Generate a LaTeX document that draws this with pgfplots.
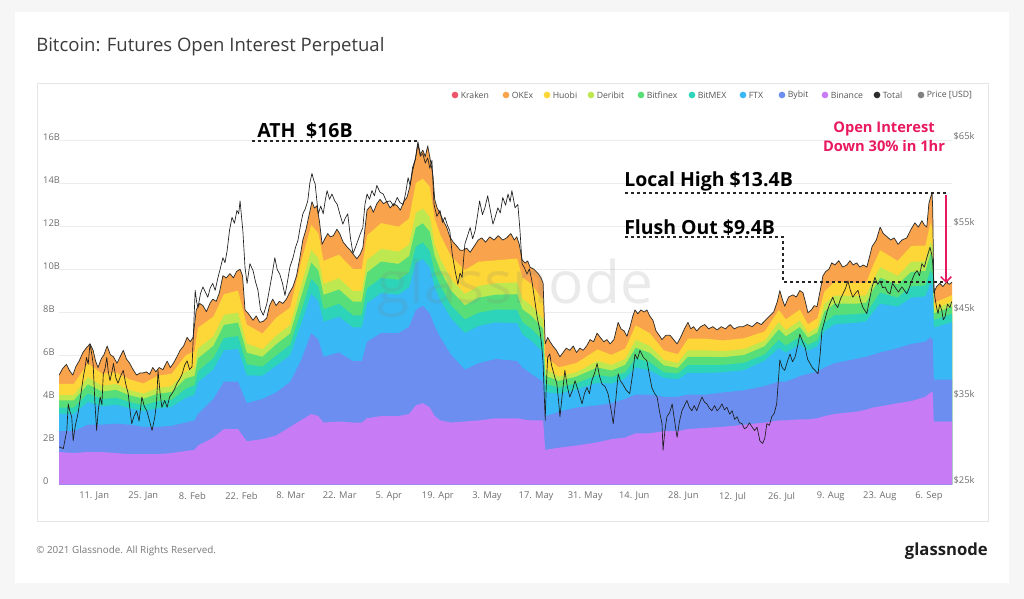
\documentclass[border=0pt]{standalone}
\usepackage{fontspec}
\setmainfont{Open Sans}
\usepackage{pgfplots}
\pgfplotsset{compat=1.18}
\usepackage{pgfplotstable}
\usetikzlibrary{arrows.meta}

\definecolor{cBinance}{RGB}{199,124,245}
\definecolor{cBybit}{RGB}{108,142,240}
\definecolor{cFTX}{RGB}{56,184,245}
\definecolor{cBitMEX}{RGB}{45,212,185}
\definecolor{cBitfinex}{RGB}{88,222,120}
\definecolor{cDeribit}{RGB}{190,232,80}
\definecolor{cHuobi}{RGB}{253,214,56}
\definecolor{cOKEx}{RGB}{249,164,76}
\definecolor{cKraken}{RGB}{238,86,104}
\definecolor{cTotal}{RGB}{45,45,45}
\definecolor{cPrice}{RGB}{128,128,128}
\definecolor{cPink}{RGB}{233,25,96}
\definecolor{tickcol}{RGB}{110,110,110}
\definecolor{legcol}{RGB}{85,85,85}
\definecolor{gridcol}{RGB}{236,236,236}
\definecolor{bgcol}{RGB}{246,246,246}
\definecolor{framecol}{RGB}{230,230,230}

% Total open interest (USD bn) vs day of 2021 (day 0 = 1 Jan)
\pgfplotstableread{
d t
0 5.1
1.0 5.4
2.1 5.6
3.0 5.3
3.9 5.1
4.8 5.5
5.7 5.75
6.8 6.15
7.7 6.35
8.8 6.55
9.7 6.25
10.4 5.75
11.1 5.45
12.0 5.85
12.8 6.05
13.7 6.45
14.6 6.05
15.5 5.95
16.5 5.65
17.4 5.95
18.3 6.25
19.2 5.85
20.1 5.65
21.1 5.35
22.1 5.1
23.1 5.2
23.9 5.2
24.9 5.25
25.8 5.13
26.7 5.45
27.6 5.25
28.5 5.45
29.6 5.35
30.8 5.75
31.7 5.45
32.6 5.65
33.6 5.95
34.5 6.25
35.5 6.45
36.5 6.85
37.4 6.65
38.2 6.85
39.1 8.13
40.1 8.43
41.0 8.33
42.0 8.05
43.0 8.43
43.8 8.63
44.8 8.53
45.7 8.93
46.7 9.72
47.7 9.62
48.7 9.82
49.7 9.62
50.6 9.92
51.6 10.02
52.3 9.72
53.0 8.13
54.0 7.95
55.3 7.65
56.2 7.85
57.2 7.55
58.2 7.6
59.2 7.75
60.0 8.33
60.9 8.63
61.9 8.33
62.8 8.53
63.8 8.43
64.8 8.63
65.7 8.93
66.7 9.22
67.7 9.72
68.6 10.51
69.5 11.38
70.4 11.88
71.3 12.57
72.1 13.16
72.8 12.87
73.5 12.97
74.2 12.28
75.0 11.18
75.9 11.48
76.6 11.68
77.3 11.53
78.2 11.58
79.2 11.88
80.0 11.68
81.0 11.28
82.0 11.08
83.0 10.91
83.9 10.71
84.9 10.51
85.8 10.71
86.6 11.01
87.8 12.77
88.8 12.97
89.6 12.67
90.6 13.07
91.5 13.27
92.5 13.07
93.4 13.17
94.4 12.87
95.4 13.07
96.4 12.97
97.3 12.77
98.3 13.17
99.2 13.37
100.0 13.86
100.8 14.76
101.6 15.16
102.3 15.95
103.0 15.36
103.7 15.56
104.4 15.26
105.1 15.76
105.9 15.06
106.6 14.36
107.1 13.26
107.8 12.87
108.6 12.63
109.5 12.28
110.5 11.98
111.4 11.53
112.4 11.28
113.5 11.08
114.3 10.91
115.2 10.91
116.2 11.0
117.2 10.81
118.3 11.08
119.5 11.38
120.5 11.48
121.6 11.28
122.8 11.53
124.0 11.38
125.2 11.58
126.5 11.38
127.6 11.48
128.8 11.68
129.8 11.38
130.5 11.53
131.2 11.18
132.0 10.46
132.9 10.31
133.6 10.41
134.3 10.11
135.4 10.02
136.6 9.82
137.4 9.62
138.0 9.37
138.6 6.55
139.3 6.85
140.0 6.65
140.8 6.45
141.8 6.25
142.8 5.95
143.7 6.15
144.6 6.35
145.6 6.25
146.6 6.45
147.5 6.15
148.5 6.35
149.4 6.25
150.4 6.45
151.4 6.75
152.4 6.65
153.4 7.05
154.3 6.85
155.3 6.65
156.2 6.75
157.1 6.55
158.2 6.75
159.4 7.55
160.2 7.25
161.1 7.15
161.9 6.9
162.8 7.35
163.6 7.85
164.2 8.13
165.0 7.95
165.9 8.13
166.8 8.03
167.6 8.13
168.4 7.85
169.3 7.65
170.2 7.15
171.1 6.95
171.9 6.75
173.0 6.95
174.2 6.95
175.2 6.75
176.2 6.55
177.2 6.85
178.3 7.25
179.3 7.55
180.1 7.25
180.9 7.35
181.8 7.15
182.9 7.35
184.1 7.45
185.2 7.25
186.4 7.35
187.6 7.2
188.8 7.35
190.0 7.25
191.3 7.45
192.5 7.25
193.8 7.35
195.0 7.35
196.2 7.45
197.6 7.35
199.0 7.55
200.2 7.45
201.4 7.65
202.6 7.85
203.8 8.05
204.8 8.53
205.5 9.03
206.2 8.63
206.9 8.3
208.0 8.73
209.2 8.83
210.2 8.73
211.2 9.03
212.1 8.93
212.9 8.43
213.5 8.0
214.5 8.13
215.3 8.33
216.1 8.28
217.0 9.03
217.8 9.72
218.6 9.92
219.5 10.02
220.3 10.32
221.2 10.22
222.3 10.42
223.4 10.12
224.6 10.22
225.5 10.42
226.4 10.22
227.4 10.32
228.3 10.12
229.3 10.22
230.3 10.12
231.1 10.62
231.8 11.08
233.0 11.38
234.1 11.98
235.0 11.68
236.1 11.53
237.1 11.38
238.1 11.48
239.2 11.18
240.3 11.38
241.7 11.48
242.9 11.88
244.0 12.18
245.0 11.98
246.0 12.28
246.7 12.08
247.4 11.98
248.0 13.08
248.5 13.38
248.9 13.58
249.1 12.78
249.4 8.93
250.2 9.22
251.1 9.37
252.0 9.22
253.0 9.42
253.8 9.32
254.6 9.42
}\tot

% cumulative tops of the stacked exchange layers (USD bn)
\pgfplotstableread{
d bi by ftx mex fin der hu
0 1.52 2.49 3.29 3.59 3.92 4.17 4.69
4.2 1.47 2.49 3.29 3.59 3.92 4.17 4.69
8.2 1.52 2.79 3.85 4.24 4.67 5.00 5.65
12.2 1.52 2.79 3.65 3.98 4.33 4.60 5.17
16.2 1.47 2.84 3.72 4.05 4.41 4.68 5.22
20.1 1.42 2.79 3.56 3.85 4.16 4.40 4.90
24.1 1.42 2.69 3.43 3.70 4.00 4.23 4.71
28.1 1.42 2.69 3.55 3.88 4.23 4.50 5.07
32.1 1.47 2.74 3.62 3.95 4.31 4.58 5.16
36.1 1.57 2.89 4.04 4.47 4.94 5.26 6.02
38.6 1.62 2.99 4.17 4.62 5.06 5.43 6.21
39.6 1.82 3.29 4.76 5.27 5.87 6.33 7.30
44.0 2.19 3.99 5.36 5.89 6.46 6.90 7.82
47.0 2.59 4.79 6.25 6.82 7.43 7.90 8.86
51.0 2.59 4.79 6.32 6.91 7.54 8.00 9.03
53.5 2.02 3.79 5.09 5.60 6.14 6.56 7.45
58.0 2.12 3.99 5.07 5.49 5.95 6.30 7.03
61.9 2.29 4.29 5.53 6.01 6.53 6.93 7.77
65.9 2.69 4.79 6.03 6.51 7.03 7.43 8.24
68.9 2.99 5.75 7.41 8.01 8.68 9.20 10.30
71.9 3.29 7.05 8.88 9.57 10.33 10.91 12.08
73.9 3.19 6.75 8.54 9.23 9.97 10.54 11.70
75.4 2.89 5.95 7.58 8.16 8.83 9.34 10.41
79.8 2.94 6.15 7.81 8.41 9.08 9.60 10.70
83.8 2.89 5.75 7.32 7.88 8.51 9.00 10.03
86.3 2.89 5.75 7.32 7.88 8.51 9.00 10.03
87.8 3.09 6.65 8.44 9.13 9.87 10.44 11.60
91.8 3.19 7.05 8.91 9.62 10.38 10.97 12.17
96.8 3.19 7.05 8.84 9.53 10.27 10.84 12.00
99.8 3.29 7.35 9.18 9.87 10.63 11.17 12.38
101.7 3.69 8.12 10.30 11.07 11.96 12.64 14.03
103.7 3.79 8.32 10.50 11.27 12.16 12.84 14.23
105.7 3.59 7.95 10.10 10.87 11.76 12.44 13.86
107.1 3.19 7.35 9.18 9.87 10.63 11.17 12.38
108.7 2.99 6.85 8.58 9.24 9.96 10.49 11.62
111.7 2.89 6.05 7.75 8.35 9.04 9.57 10.64
115.7 2.94 5.35 7.05 7.68 8.34 8.87 9.98
119.6 2.99 5.65 7.38 8.00 8.70 9.24 10.37
124.6 3.09 5.85 7.55 8.15 8.84 9.37 10.44
130.6 3.09 5.75 7.51 8.14 8.86 9.41 10.52
132.1 3.04 5.45 6.99 7.56 8.16 8.64 9.64
134.6 2.99 5.15 6.69 7.26 7.86 8.34 9.34
138.0 2.99 4.79 6.16 6.69 7.26 7.70 8.59
138.6 1.62 3.19 4.31 4.69 5.07 5.39 5.97
142.5 1.72 3.39 4.23 4.52 4.83 5.03 5.46
147.5 1.82 3.59 4.43 4.72 5.03 5.23 5.66
153.5 1.97 3.69 4.74 5.10 5.45 5.75 6.29
157.5 2.12 3.79 4.70 5.01 5.31 5.57 6.04
161.4 2.19 3.99 4.94 5.22 5.57 5.84 6.33
164.4 2.39 4.19 5.45 5.89 6.37 6.74 7.41
168.4 2.39 4.19 5.31 5.70 6.13 6.46 7.05
172.4 2.49 4.09 4.97 5.23 5.55 5.80 6.25
176.4 2.49 4.09 4.90 5.17 5.43 5.66 6.07
179.3 2.59 4.19 5.20 5.56 5.95 6.25 6.79
184.3 2.64 4.19 5.20 5.56 5.95 6.25 6.79
189.3 2.69 4.29 5.23 5.57 5.93 6.21 6.71
195.3 2.79 4.39 5.33 5.67 6.03 6.31 6.81
201.2 2.89 4.59 5.77 6.06 6.44 6.70 7.13
205.2 2.99 4.79 6.35 6.73 7.22 7.56 8.13
207.2 2.99 4.79 6.14 6.47 6.90 7.19 7.69
211.2 3.04 5.05 6.52 6.87 7.33 7.64 8.14
213.5 3.04 5.15 6.24 6.50 6.84 7.07 7.46
216.2 3.09 5.25 6.43 6.71 7.07 7.32 7.74
218.2 3.19 5.45 7.13 7.53 8.05 8.41 8.98
221.1 3.29 5.65 7.46 7.89 8.42 8.80 9.45
227.1 3.39 5.85 7.53 7.93 8.42 8.78 9.38
230.1 3.49 5.95 7.59 7.98 8.46 8.81 9.39
232.1 3.59 6.05 8.02 8.46 9.08 9.50 10.20
234.1 3.64 6.15 8.42 8.93 9.63 10.12 10.91
239.1 3.79 6.35 8.28 8.71 9.31 9.72 10.41
243.0 3.89 6.55 8.70 9.22 9.90 10.37 11.11
247.0 4.09 6.65 8.76 9.27 9.94 10.39 11.12
248.5 4.29 6.85 9.38 9.99 10.75 11.29 12.21
249.1 4.29 6.75 9.16 9.74 10.49 11.01 11.84
249.4 2.94 4.89 7.31 7.66 7.97 8.17 8.45
254.6 2.94 4.89 7.56 7.95 8.29 8.51 8.82
}\lay

% BTC price (USD thousands)
\pgfplotstableread{
d p
0 29.4
1.2 29.2
2.2 31.3
2.6 34.4
3.1 33.5
3.6 32.9
4.0 30.1
4.6 31.8
5.4 33.3
6.2 35.5
6.9 37.5
7.4 38.6
7.8 39.8
8.3 39.0
8.8 41.4
9.3 40.2
9.7 39.1
10.2 34.6
10.7 31.3
11.2 33.8
11.7 35.2
12.2 34.3
12.6 37.9
13.1 38.5
13.6 39.8
14.0 38.2
14.5 37.1
15.0 38.0
15.5 39.1
16.2 37.4
16.8 36.8
17.5 37.6
18.3 38.3
19.0 36.7
19.7 35.6
20.3 33.4
20.7 32.1
21.4 33.0
22.1 33.6
22.8 32.4
23.6 35.2
24.3 34.1
25.0 33.6
25.8 32.4
26.5 31.3
27.3 32.9
27.8 34.6
28.2 38.3
28.8 35.6
29.3 34.0
30.1 34.8
30.8 34.0
31.5 35.2
32.2 35.6
32.9 36.1
33.6 36.8
34.4 37.3
35.1 37.9
35.8 38.9
36.5 39.4
37.2 38.4
37.9 38.7
38.8 47.6
39.2 46.3
39.6 45.6
40.3 47.2
41.0 48.0
41.7 47.4
42.4 46.8
43.1 47.9
43.8 48.4
44.5 47.6
45.3 49.1
46.0 50.2
46.7 51.4
47.3 50.8
47.9 52.2
48.6 54.6
49.3 56.1
50.0 55.4
50.7 56.9
51.2 56.5
51.6 58.0
52.0 56.2
52.4 54.5
53.0 50.3
53.6 48.4
54.4 50.7
55.3 49.9
56.0 48.6
56.7 47.6
57.4 45.4
58.2 44.7
59.2 46.0
60.1 48.0
60.8 49.6
61.5 51.4
62.2 50.0
62.9 49.5
63.7 48.4
64.4 47.0
65.1 48.6
65.8 50.3
66.7 51.4
67.4 52.6
68.1 53.4
68.8 55.1
69.5 56.5
70.2 57.1
70.9 58.0
71.5 60.1
72.1 61.2
72.6 60.4
73.0 60.0
73.5 58.0
73.9 56.5
74.6 57.4
75.3 56.5
75.9 58.1
76.4 59.2
77.1 58.2
77.8 58.8
78.6 58.0
79.3 57.6
80.1 56.4
80.9 55.3
81.6 56.0
82.3 56.5
83.1 53.6
83.8 51.9
84.5 52.6
85.2 53.4
85.9 54.2
86.6 54.9
87.2 57.6
87.8 58.8
88.5 58.2
89.2 59.2
89.9 58.6
90.6 59.8
91.5 59.0
92.4 58.8
93.4 57.9
94.4 58.0
95.4 57.4
96.4 58.4
97.2 57.8
98.1 57.6
98.8 58.9
99.5 60.7
100.1 59.8
100.8 61.5
101.6 62.9
102.3 64.6
103.0 63.2
103.7 63.5
104.4 62.4
105.1 63.0
105.7 61.8
106.3 62.7
106.9 57.6
107.7 56.2
108.6 56.9
109.3 55.5
110.0 56.1
110.7 55.2
111.4 54.5
112.1 51.8
112.9 49.9
113.7 48.3
114.3 49.6
114.9 49.1
115.7 53.0
116.5 54.0
117.2 54.9
117.9 53.6
118.6 54.5
119.3 56.3
119.9 58.0
120.7 56.4
121.4 57.2
122.2 58.6
123.0 56.8
123.7 55.3
124.4 56.2
125.1 57.2
125.8 56.6
126.5 58.4
127.3 57.5
128.0 58.8
128.6 57.9
129.1 59.2
130.0 57.2
130.8 57.6
131.4 54.6
132.0 50.7
132.7 50.2
133.4 49.5
134.1 50.1
134.8 48.7
135.6 46.5
136.3 44.5
137.1 42.9
137.6 41.2
138.0 39.1
138.3 35.8
138.6 32.5
138.9 36.4
139.3 39.8
139.9 40.2
140.4 38.9
140.8 38.3
141.4 37.4
141.9 36.8
142.4 34.8
142.8 32.9
143.5 35.6
144.2 38.3
144.9 36.4
145.6 35.2
146.4 36.0
147.1 37.1
148.1 35.8
149.1 34.4
149.8 35.6
150.5 36.3
151.2 35.6
151.9 37.1
152.7 38.0
153.4 39.1
154.1 37.6
154.8 36.7
155.7 36.4
156.5 35.6
157.3 33.9
158.0 32.1
158.7 34.8
159.4 37.9
160.0 37.1
160.7 36.7
161.7 36.0
162.7 35.6
163.5 37.8
164.2 40.2
164.9 39.6
165.6 40.6
166.6 39.8
167.6 39.4
168.3 37.8
169.0 36.3
169.8 35.6
170.5 35.2
171.2 33.5
171.9 32.1
172.2 29.0
172.7 31.2
173.3 32.9
174.1 33.4
174.8 34.4
175.5 32.4
176.2 30.5
176.9 32.4
177.6 33.6
178.3 34.2
179.0 34.8
179.7 34.0
180.4 33.6
181.1 34.2
181.8 33.6
182.6 34.5
183.3 35.2
184.0 34.6
184.7 34.4
185.4 33.9
186.1 33.6
186.9 34.2
187.6 33.6
188.3 33.9
189.0 34.4
189.7 33.7
190.4 34.0
191.2 33.2
191.9 33.6
192.6 32.6
193.3 32.9
194.0 32.2
194.7 32.1
195.4 31.5
196.1 31.7
196.8 32.2
197.6 31.7
198.3 31.3
199.0 31.7
199.8 30.1
200.6 29.8
201.2 30.4
201.8 32.1
202.5 31.9
203.2 32.9
203.9 33.3
204.6 34.4
205.5 39.5
206.2 38.6
206.9 38.3
207.7 39.4
208.4 40.2
209.1 39.3
209.8 39.8
210.5 41.0
211.2 42.5
212.0 41.6
212.7 41.0
213.4 39.6
214.1 39.1
214.8 38.6
215.5 38.3
216.4 37.9
217.0 40.2
217.5 42.9
218.3 44.1
219.0 45.2
219.7 46.0
220.6 46.8
221.3 46.0
222.0 45.6
222.8 46.6
223.5 47.2
224.2 47.8
224.9 48.7
225.6 47.6
226.3 46.8
227.1 47.3
227.8 47.6
228.5 46.4
229.2 45.6
230.3 44.9
231.1 46.6
231.8 48.0
232.6 49.1
233.4 48.3
234.1 48.7
234.8 47.9
235.5 48.0
236.2 47.4
236.9 47.2
237.6 48.4
238.3 48.0
239.3 47.4
240.3 48.0
241.0 47.6
241.7 47.2
242.4 47.9
243.1 48.7
243.9 49.5
244.6 49.9
245.3 49.3
246.0 50.7
246.7 50.3
247.4 51.4
248.3 52.6
248.8 51.8
249.1 50.7
249.4 48.4
249.7 46.8
250.2 45.6
250.6 44.9
251.1 46.0
251.7 45.2
252.1 44.2
252.6 44.5
253.3 46.0
254.0 45.6
254.5 46.3
}\price

\pgfplotsset{
  base/.style={
    at={(44.33pt,-363.53pt)}, anchor=south west,
    scale only axis, width=669.7pt, height=258pt,
    xmin=0, xmax=254.6,
    axis line style={draw=none}, tick style={draw=none},
    major tick length=0pt,
    no markers,
    ticklabel style={font=\fontsize{7}{8}\selectfont, text=tickcol},
  }
}

\begin{document}
\begin{tikzpicture}
\begin{scope}[x=0.75pt,y=-0.75pt]
  \fill[bgcol] (0,0) rectangle (1024,599);
  \fill[white] (15,12) rectangle (1009,583);
  \draw[framecol, line width=0.6pt] (37,83) rectangle (988,521);
  \node[anchor=west, inner sep=0pt, text={rgb,255:red,60;green,60;blue,60},
        font=\fontsize{13.9}{16}\selectfont] at (36,47) {Bitcoin: Futures Open Interest Perpetual};
  \node[anchor=west, inner sep=0pt, text={rgb,255:red,120;green,120;blue,120},
        font=\fontsize{7.4}{9}\selectfont] at (36,551) {© 2021 Glassnode. All Rights Reserved.};
  \node[anchor=east, inner sep=0pt, text={rgb,255:red,30;green,30;blue,30},
        font=\fontsize{12.5}{15}\selectfont\bfseries] at (988,551) {glassnode};
  % legend
  \foreach \xx/\col/\lab in {455/cKraken/Kraken, 506/cOKEx/OKEx, 547/cHuobi/Huobi,
      591/cDeribit/Deribit, 641/cBitfinex/Bitfinex, 692/cBitMEX/BitMEX, 743/cFTX/FTX,
      782/cBybit/Bybit, 825/cBinance/Binance, 877/cTotal/Total, 921/cPrice/Price [USD]}{
    \fill[\col] (\xx,95) circle[radius=2.5pt];
    \node[anchor=west, inner sep=0pt, text=legcol, font=\fontsize{6.5}{8}\selectfont] at (\xx+5.5,95) {\lab};
  }
\end{scope}

\begin{axis}[base,
  ymin=0, ymax=16,
  ytick={0,2,4,6,8,10,12,14,16},
  yticklabels={0,2B,4B,6B,8B,10B,12B,14B,16B},
  xtick={10,24,38,52,66,80,94,108,122,136,150,164,178,192,206,220,234,248},
  xticklabels={11. Jan,25. Jan,8. Feb,22. Feb,8. Mar,22. Mar,5. Apr,19. Apr,3. May,17. May,31. May,14. Jun,28. Jun,12. Jul,26. Jul,9. Aug,23. Aug,6. Sep},
  ymajorgrids, grid style={gridcol, line width=0.6pt},
  yticklabel style={anchor=west, inner sep=0pt, xshift=-12.1pt, yshift=3pt},
  xticklabel style={yshift=-2pt},
]
  \addplot[draw=none, fill=cOKEx] table[x=d,y=t]{\tot} \closedcycle;
  \addplot[draw=none, fill=cHuobi] table[x=d,y=hu]{\lay} \closedcycle;
  \addplot[draw=none, fill=cDeribit] table[x=d,y=der]{\lay} \closedcycle;
  \addplot[draw=none, fill=cBitfinex] table[x=d,y=fin]{\lay} \closedcycle;
  \addplot[draw=none, fill=cBitMEX] table[x=d,y=mex]{\lay} \closedcycle;
  \addplot[draw=none, fill=cFTX] table[x=d,y=ftx]{\lay} \closedcycle;
  \addplot[draw=none, fill=cBybit] table[x=d,y=by]{\lay} \closedcycle;
  \addplot[draw=none, fill=cBinance] table[x=d,y=bi]{\lay} \closedcycle;
  \addplot[cTotal, line width=0.55pt, line join=round] table[x=d,y=t]{\tot};
\end{axis}

\begin{axis}[base,
  ymin=25, ymax=65,
  axis y line*=right, axis x line=none,
  ytick={25,35,45,55,65},
  yticklabels={\$25k,\$35k,\$45k,\$55k,\$65k},
  yticklabel style={anchor=west, inner sep=0pt, xshift=1pt, yshift=3pt},
]
  \addplot[black!88, line width=0.5pt, line join=round] table[x=d,y=p]{\price};
\end{axis}

\begin{scope}[x=0.75pt,y=-0.75pt]
  % watermark
  \node[text=gray, opacity=0.16, font=\fontsize{44}{50}\selectfont] at (515,288) {glassnode};
  % annotations
  \draw[black!85, line width=0.8pt, dash pattern=on 2.5pt off 2pt] (252,141) -- (418,141);
  \node[anchor=west, inner sep=0pt, font=\fontsize{14.6}{16}\selectfont\bfseries] at (257,131) {ATH\hspace{0.55em}\$16B};
  \draw[black!85, line width=0.8pt, dash pattern=on 2.5pt off 2pt] (625,193) -- (948,193);
  \node[anchor=west, inner sep=0pt, font=\fontsize{14.6}{16}\selectfont\bfseries] at (624,181) {Local High \$13.4B};
  \draw[black!85, line width=0.8pt, dash pattern=on 2.5pt off 2pt] (625,237) -- (783,237) -- (783,282) -- (948,282);
  \node[anchor=west, inner sep=0pt, font=\fontsize{14.6}{16}\selectfont\bfseries] at (624,228) {Flush Out \$9.4B};
  \node[align=center, inner sep=0pt, text=cPink, font=\fontsize{11}{14.25}\selectfont\bfseries] at (884,136.5) {Open Interest\\Down 30\% in 1hr};
  \draw[cPink, line width=1.1pt, -{Straight Barb[length=4pt,width=8pt]}] (946,195) -- (946,283);
  \pgfresetboundingbox
  \useasboundingbox (0,0) rectangle (1024,599);
\end{scope}
\end{tikzpicture}
\end{document}
